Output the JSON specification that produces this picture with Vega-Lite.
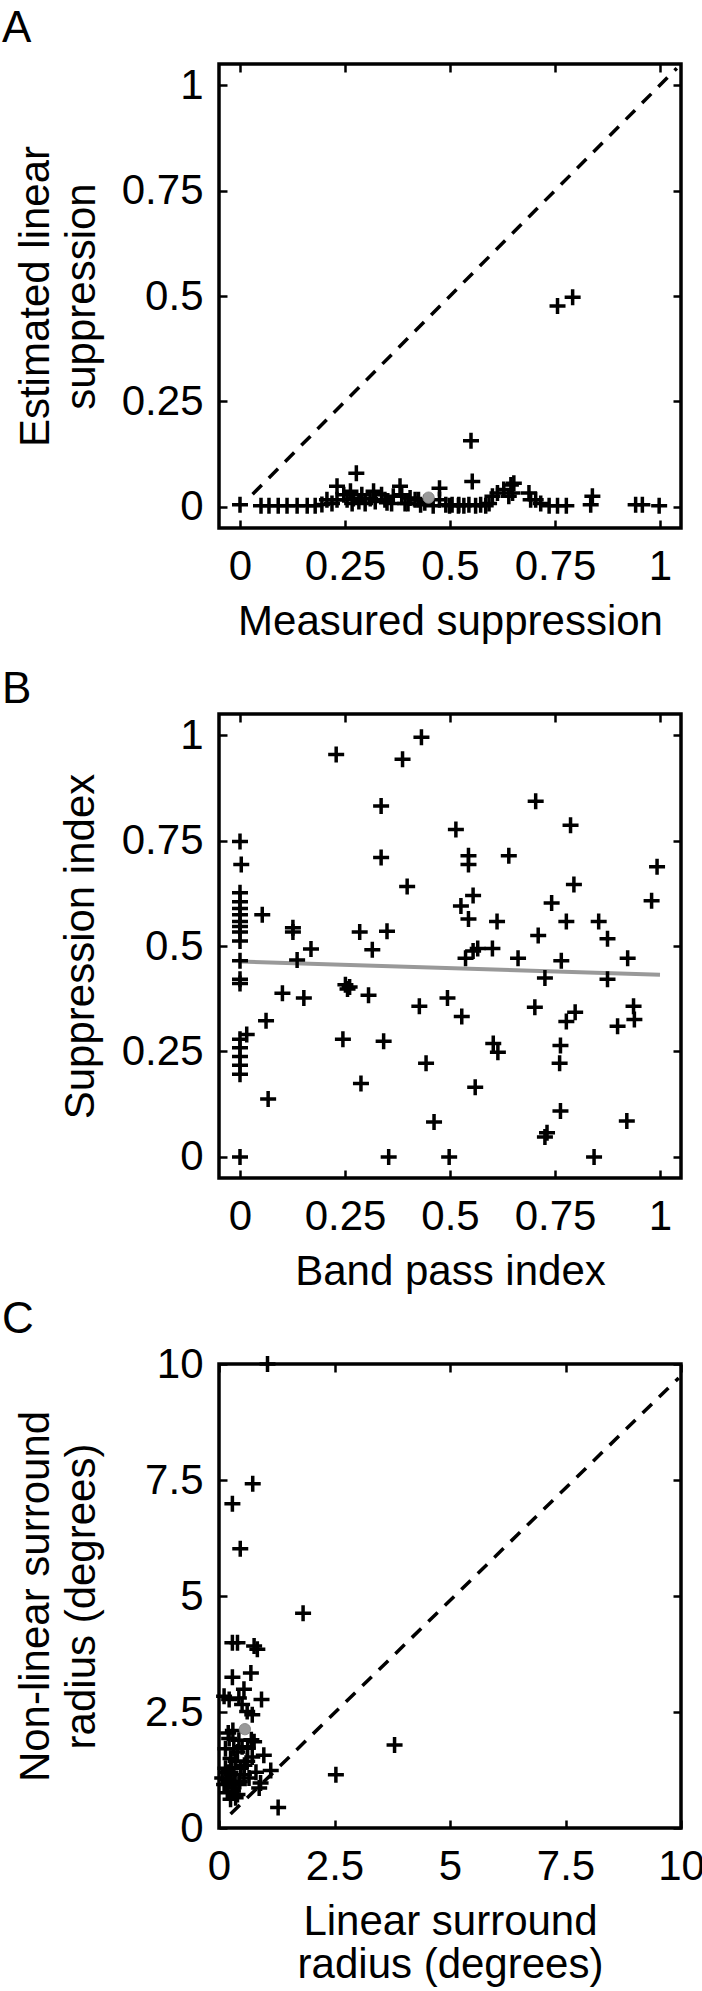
{
  "$schema": "https://vega.github.io/schema/vega-lite/v6.json",
  "padding": {"left": 0, "top": 5, "right": 0, "bottom": 0},
  "background": "white",
  "bounds": "flush",
  "spacing": 186,
  "config": {
    "font": "Liberation Sans",
    "view": {"stroke": "black", "strokeWidth": 3.5},
    "axis": {
      "grid": false, "domain": false, "tickColor": "black", "tickWidth": 2.5, "tickSize": -8,
      "labelFont": "Liberation Sans", "labelFontSize": 42, "labelColor": "black",
      "labelFlush": false, "labelOverlap": false,
      "titleFont": "Liberation Sans", "titleFontSize": 42, "titleFontWeight": "normal", "titleColor": "black",
      "titleBaseline": "alphabetic", "titleLineHeight": 46
    },
    "axisX": {"labelPadding": 26, "titleX": 231, "titleY": 106},
    "axisY": {"labelPadding": 24, "titleY": 232},
    "title": {"font": "Liberation Sans", "fontSize": 44, "fontWeight": "normal", "color": "black", "anchor": "start", "frame": "group", "baseline": "alphabetic", "dx": -217}
  },
  "vconcat": [
    {
      "title": {"text": "A", "offset": 10},
      "width": 462, "height": 464,
      "resolve": {"axis": {"x": "independent", "y": "independent"}},
      "layer": [
        {
          "data": {"values": [{"x": 0.03, "y": 0.03}, {"x": 1.04, "y": 1.04}]},
          "mark": {"type": "line", "color": "black", "strokeWidth": 3.5, "strokeDash": [13, 10]},
          "encoding": {
            "x": {"field": "x", "type": "quantitative", "scale": {"domain": [-0.05, 1.05], "nice": false, "zero": false},
                  "axis": {"orient": "top", "labels": false, "title": null, "values": [0, 0.25, 0.5, 0.75, 1]}},
            "y": {"field": "y", "type": "quantitative", "scale": {"domain": [-0.05, 1.05], "nice": false, "zero": false},
                  "axis": {"orient": "right", "labels": false, "title": null, "values": [0, 0.25, 0.5, 0.75, 1]}}
          }
        },
        {
          "data": {"values": [
            {"x":0,"y":0.005},{"x":0.05,"y":0.003},{"x":0.069,"y":0.003},{"x":0.091,"y":0.003},{"x":0.112,"y":0.003},{"x":0.136,"y":0.003},{"x":0.16,"y":0.003},{"x":0.179,"y":0.003},{"x":0.195,"y":0.006},{"x":0.207,"y":0.017},{"x":0.219,"y":0.008},{"x":0.231,"y":0.049},{"x":0.231,"y":0.017},{"x":0.247,"y":0.029},{"x":0.255,"y":0.017},{"x":0.263,"y":0.037},{"x":0.267,"y":0.008},{"x":0.27,"y":0.02},{"x":0.277,"y":0.08},{"x":0.283,"y":0.013},{"x":0.29,"y":0.029},{"x":0.298,"y":0.008},{"x":0.31,"y":0.02},{"x":0.318,"y":0.037},{"x":0.322,"y":0.013},{"x":0.337,"y":0.029},{"x":0.345,"y":0.017},{"x":0.35,"y":0.01},{"x":0.361,"y":0.008},{"x":0.365,"y":0.025},{"x":0.381,"y":0.049},{"x":0.385,"y":0.029},{"x":0.393,"y":0.008},{"x":0.4,"y":0.008},{"x":0.405,"y":0.021},{"x":0.417,"y":0.017},{"x":0.425,"y":0.017},{"x":0.43,"y":0.005},{"x":0.44,"y":0.01},{"x":0.46,"y":0.003},{"x":0.475,"y":0.044},{"x":0.475,"y":0.017},{"x":0.49,"y":0.005},{"x":0.499,"y":0.003},{"x":0.505,"y":0.005},{"x":0.52,"y":0.003},{"x":0.521,"y":0.005},{"x":0.533,"y":0.003},{"x":0.545,"y":0.005},{"x":0.55,"y":0.157},{"x":0.553,"y":0.06},{"x":0.561,"y":0.003},{"x":0.573,"y":0.005},{"x":0.585,"y":0.003},{"x":0.593,"y":0.008},{"x":0.601,"y":0.025},{"x":0.613,"y":0.033},{"x":0.628,"y":0.041},{"x":0.64,"y":0.025},{"x":0.645,"y":0.052},{"x":0.652,"y":0.056},{"x":0.649,"y":0.033},{"x":0.688,"y":0.033},{"x":0.692,"y":0.017},{"x":0.704,"y":0.017},{"x":0.716,"y":0.008},{"x":0.736,"y":0.003},{"x":0.756,"y":0.003},{"x":0.756,"y":0.476},{"x":0.777,"y":0.003},{"x":0.792,"y":0.497},{"x":0.835,"y":0.005},{"x":0.839,"y":0.025},{"x":0.942,"y":0.005},{"x":0.958,"y":0.005},{"x":0.998,"y":0.003}
          ]},
          "mark": {"type": "point", "shape": "M-1,0H1M0,-1V1", "filled": false, "color": "black", "strokeWidth": 3.5, "size": 256, "opacity": 1},
          "encoding": {
            "x": {"field": "x", "type": "quantitative", "scale": {"domain": [-0.05, 1.05], "nice": false, "zero": false},
                  "axis": {"orient": "bottom", "values": [0, 0.25, 0.5, 0.75, 1], "format": ".2~f", "title": "Measured suppression"}},
            "y": {"field": "y", "type": "quantitative", "scale": {"domain": [-0.05, 1.05], "nice": false, "zero": false},
                  "axis": {"orient": "left", "values": [0, 0.25, 0.5, 0.75, 1], "format": ".2~f", "title": ["Estimated linear", "suppression"], "titleX": -171}}
          }
        },
        {
          "data": {"values": [{"x": 0.449, "y": 0.022}]},
          "mark": {"type": "circle", "color": "#9a9a9a", "size": 130, "opacity": 1, "stroke": "#808080", "strokeWidth": 0.8},
          "encoding": {
            "x": {"field": "x", "type": "quantitative", "scale": {"domain": [-0.05, 1.05], "nice": false, "zero": false}, "axis": null},
            "y": {"field": "y", "type": "quantitative", "scale": {"domain": [-0.05, 1.05], "nice": false, "zero": false}, "axis": null}
          }
        }
      ]
    },
    {
      "title": {"text": "B", "offset": 1},
      "width": 462, "height": 464,
      "resolve": {"axis": {"x": "independent", "y": "independent"}},
      "layer": [
        {
          "data": {"values": [{"x": 0, "y": 0.463}, {"x": 1.0, "y": 0.432}]},
          "mark": {"type": "line", "color": "#999999", "strokeWidth": 4},
          "encoding": {
            "x": {"field": "x", "type": "quantitative", "scale": {"domain": [-0.05, 1.05], "nice": false, "zero": false},
                  "axis": {"orient": "top", "labels": false, "title": null, "values": [0, 0.25, 0.5, 0.75, 1]}},
            "y": {"field": "y", "type": "quantitative", "scale": {"domain": [-0.05, 1.05], "nice": false, "zero": false},
                  "axis": {"orient": "right", "labels": false, "title": null, "values": [0, 0.25, 0.5, 0.75, 1]}}
          }
        },
        {
          "data": {"values": [
            {"x":0,"y":0.748},{"x":0.003,"y":0.693},{"x":0,"y":0.626},{"x":0,"y":0.605},{"x":0,"y":0.589},{"x":0,"y":0.574},{"x":0,"y":0.558},{"x":0,"y":0.546},{"x":0,"y":0.533},{"x":0,"y":0.512},{"x":0,"y":0.465},{"x":0,"y":0.421},{"x":0,"y":0.411},{"x":0.016,"y":0.29},{"x":0,"y":0.279},{"x":0,"y":0.259},{"x":0,"y":0.238},{"x":0,"y":0.217},{"x":0,"y":0.196},{"x":0,"y":0},
            {"x":0.053,"y":0.574},{"x":0.067,"y":0.137},{"x":0.062,"y":0.323},{"x":0.101,"y":0.388},{"x":0.126,"y":0.543},{"x":0.126,"y":0.533},{"x":0.136,"y":0.467},{"x":0.152,"y":0.377},{"x":0.169,"y":0.493},{"x":0.229,"y":0.954},{"x":0.245,"y":0.279},{"x":0.251,"y":0.408},{"x":0.261,"y":0.403},{"x":0.256,"y":0.398},{"x":0.285,"y":0.533},{"x":0.288,"y":0.174},{"x":0.306,"y":0.383},{"x":0.315,"y":0.491},{"x":0.336,"y":0.832},{"x":0.336,"y":0.71},{"x":0.342,"y":0.274},{"x":0.35,"y":0.535},{"x":0.354,"y":0},{"x":0.387,"y":0.943},{"x":0.398,"y":0.641},{"x":0.427,"y":0.357},{"x":0.432,"y":0.995},{"x":0.443,"y":0.222},{"x":0.462,"y":0.083},{"x":0.494,"y":0.377},{"x":0.498,"y":0},{"x":0.514,"y":0.776},{"x":0.526,"y":0.595},{"x":0.528,"y":0.333},{"x":0.537,"y":0.471},{"x":0.544,"y":0.714},{"x":0.544,"y":0.693},{"x":0.544,"y":0.564},{"x":0.555,"y":0.62},{"x":0.555,"y":0.488},{"x":0.56,"y":0.165},{"x":0.566,"y":0.494},{"x":0.601,"y":0.494},{"x":0.603,"y":0.269},{"x":0.612,"y":0.558},{"x":0.614,"y":0.248},{"x":0.64,"y":0.714},{"x":0.662,"y":0.471},{"x":0.704,"y":0.843},{"x":0.702,"y":0.355},{"x":0.71,"y":0.525},{"x":0.726,"y":0.424},{"x":0.726,"y":0.047},{"x":0.731,"y":0.057},{"x":0.742,"y":0.602},{"x":0.763,"y":0.264},{"x":0.761,"y":0.222},{"x":0.763,"y":0.109},{"x":0.765,"y":0.465},{"x":0.777,"y":0.558},{"x":0.777,"y":0.321},{"x":0.787,"y":0.786},{"x":0.795,"y":0.646},{"x":0.798,"y":0.343},{"x":0.843,"y":0},{"x":0.854,"y":0.558},{"x":0.875,"y":0.517},{"x":0.875,"y":0.421},{"x":0.899,"y":0.31},{"x":0.921,"y":0.085},{"x":0.923,"y":0.471},{"x":0.937,"y":0.357},{"x":0.939,"y":0.326},{"x":0.98,"y":0.607},{"x":0.993,"y":0.688}
          ]},
          "mark": {"type": "point", "shape": "M-1,0H1M0,-1V1", "filled": false, "color": "black", "strokeWidth": 3.5, "size": 256, "opacity": 1},
          "encoding": {
            "x": {"field": "x", "type": "quantitative", "scale": {"domain": [-0.05, 1.05], "nice": false, "zero": false},
                  "axis": {"orient": "bottom", "values": [0, 0.25, 0.5, 0.75, 1], "format": ".2~f", "title": "Band pass index"}},
            "y": {"field": "y", "type": "quantitative", "scale": {"domain": [-0.05, 1.05], "nice": false, "zero": false},
                  "axis": {"orient": "left", "values": [0, 0.25, 0.5, 0.75, 1], "format": ".2~f", "title": "Suppression index", "titleX": -126}}
          }
        }
      ]
    },
    {
      "title": {"text": "C", "offset": 1},
      "width": 462, "height": 464,
      "resolve": {"axis": {"x": "independent", "y": "independent"}},
      "layer": [
        {
          "data": {"values": [{"x": 0.25, "y": 0.3}, {"x": 9.95, "y": 9.7}]},
          "mark": {"type": "line", "color": "black", "strokeWidth": 3.5, "strokeDash": [13, 10]},
          "encoding": {
            "x": {"field": "x", "type": "quantitative", "scale": {"domain": [0, 10], "nice": false, "zero": false},
                  "axis": {"orient": "top", "labels": false, "title": null, "values": [0, 2.5, 5, 7.5, 10]}},
            "y": {"field": "y", "type": "quantitative", "scale": {"domain": [0, 10], "nice": false, "zero": false},
                  "axis": {"orient": "right", "labels": false, "title": null, "values": [0, 2.5, 5, 7.5, 10]}}
          }
        },
        {
          "data": {"values": [
            {"x":1.05,"y":10},{"x":0.73,"y":7.42},{"x":0.29,"y":6.99},{"x":0.46,"y":6.02},{"x":1.82,"y":4.63},{"x":0.29,"y":3.99},{"x":0.4,"y":3.99},{"x":0.76,"y":3.92},{"x":0.83,"y":3.85},{"x":0.29,"y":3.25},{"x":0.69,"y":3.34},{"x":0.11,"y":2.84},{"x":0.22,"y":2.77},{"x":0.43,"y":2.8},{"x":0.54,"y":2.99},{"x":0.92,"y":2.77},{"x":0.5,"y":2.66},{"x":0.72,"y":2.44},{"x":0.61,"y":2.51},{"x":0.22,"y":1.93},{"x":0.43,"y":1.89},{"x":0.76,"y":1.86},{"x":0.32,"y":1.71},{"x":0.72,"y":1.53},{"x":0.97,"y":1.57},{"x":1.12,"y":1.24},{"x":0.14,"y":1.29},{"x":0.36,"y":1.44},{"x":0.54,"y":1.15},{"x":0.22,"y":1.0},{"x":0.29,"y":0.86},{"x":0.43,"y":0.94},{"x":0.87,"y":0.86},{"x":0.9,"y":0.97},{"x":0.18,"y":0.76},{"x":0.25,"y":0.62},{"x":0.11,"y":0.94},{"x":0.4,"y":0.72},{"x":1.28,"y":0.44},{"x":2.53,"y":1.15},{"x":3.8,"y":1.79},{"x":0.07,"y":1.08},{"x":0.32,"y":1.15},{"x":0.47,"y":1.29},{"x":0.25,"y":1.5},{"x":0.14,"y":1.71},{"x":0.4,"y":1.64},{"x":0.5,"y":1.75},{"x":0.61,"y":1.44},{"x":0.36,"y":0.65},{"x":0.65,"y":1.08},{"x":0.2,"y":2.05},{"x":0.3,"y":2.1},{"x":0.18,"y":1.2},{"x":0.28,"y":1.3},{"x":0.35,"y":0.95},{"x":0.15,"y":1.05},{"x":0.25,"y":1.2},{"x":0.3,"y":0.8},{"x":0.45,"y":1.0},{"x":0.55,"y":1.35},{"x":0.62,"y":1.72},{"x":0.8,"y":1.2},{"x":0.7,"y":1.9}
          ]},
          "mark": {"type": "point", "shape": "M-1,0H1M0,-1V1", "filled": false, "color": "black", "strokeWidth": 3.5, "size": 256, "opacity": 1},
          "encoding": {
            "x": {"field": "x", "type": "quantitative", "scale": {"domain": [0, 10], "nice": false, "zero": false},
                  "axis": {"orient": "bottom", "values": [0, 2.5, 5, 7.5, 10], "format": ".2~f", "title": ["Linear surround", "radius (degrees)"], "titleLineHeight": 43}},
            "y": {"field": "y", "type": "quantitative", "scale": {"domain": [0, 10], "nice": false, "zero": false},
                  "axis": {"orient": "left", "values": [0, 2.5, 5, 7.5, 10], "format": ".2~f", "title": ["Non-linear surround", "radius (degrees)"], "titleX": -171}}
          }
        },
        {
          "data": {"values": [{"x": 0.56, "y": 2.13}]},
          "mark": {"type": "circle", "color": "#9a9a9a", "size": 130, "opacity": 1, "stroke": "#808080", "strokeWidth": 0.8},
          "encoding": {
            "x": {"field": "x", "type": "quantitative", "scale": {"domain": [0, 10], "nice": false, "zero": false}, "axis": null},
            "y": {"field": "y", "type": "quantitative", "scale": {"domain": [0, 10], "nice": false, "zero": false}, "axis": null}
          }
        }
      ]
    }
  ]
}
